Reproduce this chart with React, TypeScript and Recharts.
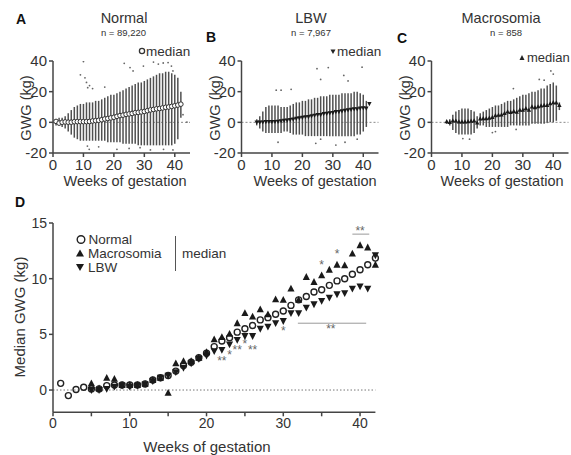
import React from 'react';
import { ComposedChart, Scatter, XAxis, YAxis, ReferenceLine, ErrorBar } from 'recharts';

const FONT = '"Liberation Sans", Arial, Helvetica, sans-serif';

// ---------- data ----------
const weeksAll = [1, 2, 3, 4, 5, 6, 7, 8, 9, 10, 11, 12, 13, 14, 15, 16, 17, 18, 19, 20, 21, 22, 23, 24, 25, 26, 27, 28, 29, 30, 31, 32, 33, 34, 35, 36, 37, 38, 39, 40, 41, 42];
const weeksLate = [5, 6, 7, 8, 9, 10, 11, 12, 13, 14, 15, 16, 17, 18, 19, 20, 21, 22, 23, 24, 25, 26, 27, 28, 29, 30, 31, 32, 33, 34, 35, 36, 37, 38, 39, 40, 41, 42];

const normalMedian = [0.6, -0.5, 0.05, 0.25, 0.1, 0.1, 0.4, 0.45, 0.45, 0.45, 0.45, 0.55, 0.9, 1.1, 1.3, 1.7, 2.2, 2.5, 2.9, 3.3, 3.9, 4.4, 4.7, 5.2, 5.5, 5.8, 6.3, 6.5, 6.8, 7.1, 7.6, 8.1, 8.4, 8.8, 9.0, 9.4, 9.8, 10.0, 10.4, 10.8, 11.25, 11.85];
const macroMedian = [0.6, 0.15, 1.1, 1.0, 0.45, 0.45, 0.45, 0.55, 0.9, 1.1, -0.25, 2.4, 2.6, 2.6, 2.9, 3.4, 4.55, 4.75, 5.05, 6.0, 6.9, 6.6, 7.25, 6.8, 8.15, 8.1, 9.1, 8.1, 10.15, 9.7, 10.3, 10.8, 11.25, 11.2, 12.25, 13.0, 12.8, 11.25];
const lbwMedian = [0.0, 0.0, 0.1, 0.3, 0.4, 0.3, 0.4, 0.5, 0.8, 1.1, 1.3, 1.6, 2.0, 2.4, 2.8, 3.1, 3.5, 3.6, 4.1, 4.5, 4.85, 4.85, 5.5, 5.7, 6.0, 6.2, 6.9, 6.9, 7.4, 7.7, 8.0, 8.3, 8.6, 8.7, 9.1, 9.3, 9.1, 12.1];

// per-week spread of individual GWG values (dense band)
const normalLow = [-2, -2, -3, -4, -6, -8, -10, -11, -12, -12, -12, -12, -12, -12, -12, -12, -12, -13, -13, -13, -13, -13, -14, -14, -14, -14, -14, -15, -15, -15, -15, -15, -15, -15, -15, -15, -15, -15, -15, -14, -11, 3];
const normalHigh = [2, 3, 3, 4, 6, 8, 10, 11, 12, 12, 13, 13, 13, 14, 14, 15, 16, 17, 18, 18, 19, 20, 21, 22, 23, 24, 25, 26, 26, 27, 28, 29, 30, 31, 32, 32, 33, 33, 32, 31, 29, 20];
const lbwLow = [-2, -4, -6, -7, -7, -7, -7, -7, -7, -6, -6, -7, -8, -8, -8, -8, -9, -9, -9, -9, -9, -9, -9, -9, -9, -9, -9, -9, -9, -9, -9, -9, -9, -8, -8, -6, -3, 12];
const lbwHigh = [2, 4, 7, 10, 11, 11, 11, 11, 10, 10, 10, 11, 12, 13, 13, 14, 14, 15, 15, 16, 16, 17, 17, 17, 18, 18, 18, 18, 19, 19, 19, 19, 20, 20, 19, 18, 14, 12];
const macroLow = [-1, -2, -5, -7, -8, -8, -8, -8, -8, -7, -4, -2, -2, -3, -3, -3, -3, -3, -3, -3, -3, -2, -2, -2, -2, -2, -2, -2, -1, -1, -1, -1, -1, 0, 0, 0, 1, 8];
const macroHigh = [1, 2, 5, 7, 8, 9, 9, 9, 8, 7, 4, 6, 7, 8, 9, 10, 11, 11, 12, 13, 14, 14, 15, 16, 17, 18, 18, 19, 20, 20, 21, 22, 22, 24, 25, 26, 24, 13];

// sparse outlying individual values
const normalOutWeek = [10, 9, 10.5, 11.4, 11, 12, 13, 17, 23.4, 25.3, 26.3, 29.7, 33, 34.6, 36.2, 37.8, 38.9, 39.4, 11.3, 11.9, 15, 21, 25, 28.6, 32, 36.3, 39.4, 42.7, 44];
const normalOutValue = [39.6, 31, 29, 22.6, 26, 24, 22, 23, 38.5, 35.7, 33.5, 36.7, 39.3, 38, 38.7, 39, 36.7, 33.5, -15.5, -17.6, -16, -17.6, -17, -16.5, -18, -17.6, -18, 5, 0.2];
const lbwOutWeek = [24.8, 28.5, 39.6, 26, 33.6, 35, 11.4, 13, 16.3, 24.4, 26, 31, 34, 38, 12];
const lbwOutValue = [35, 35.7, 36, 28, 30.6, 27, 21, 21, 21.5, -13.7, -11, -14.8, -13, -11, -13];
const macroOutWeek = [39.2, 40, 26.9, 35.4, 37, 10.3, 12.5, 20, 21, 27.8, 38];
const macroOutValue = [33.5, 31.5, 22, 28, 27.5, -10.6, -11, -6.7, -6, -4.6, 0];

// significance marks in panel D
const sigWeek = [22, 23, 24, 25, 26, 30, 35, 37, 40, 36.2];
const sigValue = [2.7, 3.2, 3.7, 4.2, 3.7, 5.4, 11.3, 12.3, 14.4, 5.6];
const sigLabel = ['**', '*', '**', '*', '**', '*', '*', '*', '**', '**'];
const sigBarFrom = [31.9, 39.0];
const sigBarTo = [40.8, 41.2];
const sigBarLevel = [6.0, 14.0];

const topXTicks = [0, 10, 20, 30, 40];
const topYTicks = [-20, 0, 20, 40];
const dXTicks = [0, 5, 10, 15, 20, 25, 30, 35, 40];
const dYTicks = [0, 5, 10, 15];

// ---------- builders ----------
const build = (w: number[], m: number[]) => w.map((x, i) => ({ x, y: m[i] }));
const buildRange = (w: number[], lo: number[], hi: number[]) =>
  w.map((x, i) => ({ x, y: lo[i], err: [0, hi[i] - lo[i]] }));

const normalD = build(weeksAll, normalMedian);
const macroD = build(weeksLate, macroMedian);
const lbwD = build(weeksLate, lbwMedian);
const sigD = sigWeek.map((x, i) => ({ x, y: sigValue[i], label: sigLabel[i] }));

// ---------- shapes ----------
const Nothing = () => <g />;
const OpenCircle = (r: number, sw: number) => (p: any) =>
  <circle cx={p.cx} cy={p.cy} r={r} fill="none" stroke="#222" strokeWidth={sw} />;
const OpenCircleWhite = (r: number, sw: number) => (p: any) =>
  <circle cx={p.cx} cy={p.cy} r={r} fill="#fff" stroke="#333" strokeWidth={sw} />;
const TriUp = (s: number) => (p: any) =>
  <path d={`M${p.cx},${p.cy - s * 0.6} L${p.cx + s * 0.55},${p.cy + s * 0.45} L${p.cx - s * 0.55},${p.cy + s * 0.45} Z`} fill="#1a1a1a" />;
const TriDown = (s: number) => (p: any) =>
  <path d={`M${p.cx},${p.cy + s * 0.6} L${p.cx + s * 0.55},${p.cy - s * 0.45} L${p.cx - s * 0.55},${p.cy - s * 0.45} Z`} fill="#1a1a1a" />;
const Dot = (p: any) => <circle cx={p.cx} cy={p.cy} r={0.9} fill="#666" />;
const Star = (p: any) => (
  <text x={p.cx} y={p.cy + 5} textAnchor="middle" fontSize={12} fill="#666" fontFamily={FONT}>
    {p.payload.label}
  </text>
);

const axisStroke = '#444';

type TopProps = {
  left: number; width: number; marginLeft: number; marginRight: number;
  lo: number[]; hi: number[]; weeks: number[]; median: { x: number; y: number }[];
  medShape: any; outW: number[]; outV: number[];
};

const TopPanel = ({ left, width, marginLeft, marginRight, lo, hi, weeks, median, medShape, outW, outV }: TopProps) => {
  const range = buildRange(weeks, lo, hi);
  const outs = build(outW, outV);
  return (
    <div style={{ position: 'absolute', left, top: 0 }}>
      <ComposedChart width={width} height={200} margin={{ top: 61, right: marginRight, bottom: 17, left: marginLeft }}>
        <XAxis type="number" dataKey="x" domain={[0, 45]} ticks={topXTicks} height={30} tickSize={4}
          stroke={axisStroke} strokeWidth={1.5} tick={{ fontSize: 15, fill: '#333', fontFamily: FONT }} allowDataOverflow />
        <YAxis type="number" dataKey="y" domain={[-20, 40]} ticks={topYTicks} width={40} tickSize={4}
          stroke={axisStroke} strokeWidth={1.5} tick={{ fontSize: 15, fill: '#333', fontFamily: FONT }} allowDataOverflow />
        <ReferenceLine y={0} stroke="#888" strokeDasharray="2 2" strokeWidth={1} />
        <Scatter data={outs} shape={Dot} isAnimationActive={false} />
        <Scatter data={range} shape={Nothing} isAnimationActive={false}>
          <ErrorBar dataKey="err" direction="y" width={0} stroke="#505050" strokeWidth={1.5} isAnimationActive={false} />
        </Scatter>
        <Scatter data={median} shape={medShape} isAnimationActive={false} />
      </ComposedChart>
    </div>
  );
};

const Overlay = () => {
  const t = { fontFamily: FONT, fill: '#333' } as const;
  return (
    <svg width={571} height={455} style={{ position: 'absolute', left: 0, top: 0, pointerEvents: 'none' }}>
      {/* Panel A */}
      <text x={16} y={24} fontSize={14} fontWeight="bold" {...t} fill="#111">A</text>
      <text x={124} y={23} fontSize={14.5} textAnchor="middle" {...t}>Normal</text>
      <text x={123.5} y={36} fontSize={9.5} textAnchor="middle" {...t}>n = 89,220</text>
      <circle cx={142} cy={51} r={2.6} fill="none" stroke="#333" strokeWidth={1.3} />
      <text x={146} y={55.5} fontSize={13.5} {...t}>median</text>
      <text x={31} y={108} fontSize={14.5} textAnchor="middle" transform="rotate(-90 31 108)" {...t}>GWG (kg)</text>
      <text x={125} y={185.5} fontSize={14.5} textAnchor="middle" {...t}>Weeks of gestation</text>

      {/* Panel B */}
      <text x={206} y={42} fontSize={14} fontWeight="bold" {...t} fill="#111">B</text>
      <text x={311} y={23} fontSize={14.5} textAnchor="middle" {...t}>LBW</text>
      <text x={311} y={36} fontSize={9.5} textAnchor="middle" {...t}>n = 7,967</text>
      <path d="M330.5,49.5 L335.5,49.5 L333,54 Z" fill="#222" />
      <text x={337} y={55.5} fontSize={13.5} {...t}>median</text>
      <text x={220} y={108} fontSize={14.5} textAnchor="middle" transform="rotate(-90 220 108)" {...t}>GWG (kg)</text>
      <text x={315} y={185.5} fontSize={14.5} textAnchor="middle" {...t}>Weeks of gestation</text>

      {/* Panel C */}
      <text x={397} y={43} fontSize={14} fontWeight="bold" {...t} fill="#111">C</text>
      <text x={501} y={23} fontSize={14.5} textAnchor="middle" {...t}>Macrosomia</text>
      <text x={506} y={36} fontSize={9.5} textAnchor="middle" {...t}>n = 858</text>
      <path d="M522,55 L524.5,60 L519.5,60 Z" fill="#222" />
      <text x={527} y={62} fontSize={13} {...t}>median</text>
      <text x={410} y={108} fontSize={14.5} textAnchor="middle" transform="rotate(-90 410 108)" {...t}>GWG (kg)</text>
      <text x={502} y={185.5} fontSize={14.5} textAnchor="middle" {...t}>Weeks of gestation</text>

      {/* Panel D */}
      <text x={15} y={207} fontSize={14} fontWeight="bold" {...t} fill="#111">D</text>
      <text x={25} y={317} fontSize={15} textAnchor="middle" transform="rotate(-90 25 317)" {...t}>Median GWG (kg)</text>
      <text x={207} y={452} fontSize={15} textAnchor="middle" {...t}>Weeks of gestation</text>
      <circle cx={81} cy={239.5} r={3.8} fill="none" stroke="#222" strokeWidth={1.4} />
      <text x={88.5} y={244} fontSize={13.5} {...t}>Normal</text>
      <path d="M80,249.5 L84,256.5 L76,256.5 Z" fill="#1a1a1a" />
      <text x={88} y={258} fontSize={13.5} {...t}>Macrosomia</text>
      <path d="M80,271 L84,264 L76,264 Z" fill="#1a1a1a" />
      <text x={88} y={272} fontSize={13.5} {...t}>LBW</text>
      <line x1={175.5} y1={236} x2={175.5} y2={271} stroke="#555" strokeWidth={1} />
      <text x={182} y={258} fontSize={13.5} {...t}>median</text>
    </svg>
  );
};

export default function App() {
  return (
    <div style={{ position: 'absolute', left: 0, top: 0, width: 571, height: 455, background: '#fff', overflow: 'hidden' }}>
      <TopPanel left={0} width={200} marginLeft={13} marginRight={10} lo={normalLow} hi={normalHigh} weeks={weeksAll}
        median={normalD} medShape={OpenCircleWhite(2.3, 1)} outW={normalOutWeek} outV={normalOutValue} />
      <TopPanel left={190} width={192} marginLeft={11.5} marginRight={3.5} lo={lbwLow} hi={lbwHigh} weeks={weeksLate}
        median={lbwD} medShape={TriDown(4)} outW={lbwOutWeek} outV={lbwOutValue} />
      <TopPanel left={370} width={201} marginLeft={21.5} marginRight={2.5} lo={macroLow} hi={macroHigh} weeks={weeksLate}
        median={macroD} medShape={TriUp(4)} outW={macroOutWeek} outV={macroOutValue} />

      <div style={{ position: 'absolute', left: 0, top: 190 }}>
        <ComposedChart width={400} height={265} margin={{ top: 33, right: 24.6, bottom: 12.7, left: 13 }}>
          <XAxis type="number" dataKey="x" domain={[0, 42]} ticks={dXTicks} height={30} tickSize={4}
            tickFormatter={(v: number) => (v % 10 === 0 ? String(v) : '')}
            stroke={axisStroke} strokeWidth={1.5} tick={{ fontSize: 14, fill: '#333', fontFamily: FONT }} />
          <YAxis type="number" dataKey="y" domain={[-2, 15]} ticks={dYTicks} width={40} tickSize={4}
            stroke={axisStroke} strokeWidth={1.5} tick={{ fontSize: 14, fill: '#333', fontFamily: FONT }} />
          <ReferenceLine y={0} stroke="#777" strokeDasharray="1.5 2" strokeWidth={1} />
          {sigBarLevel.map((lv, i) => (
            <ReferenceLine key={i} segment={[{ x: sigBarFrom[i], y: lv }, { x: sigBarTo[i], y: lv }]} stroke="#999" strokeWidth={1} />
          ))}
          <Scatter data={normalD} shape={OpenCircle(3, 1.4)} isAnimationActive={false} />
          <Scatter data={macroD} shape={TriUp(6.5)} isAnimationActive={false} />
          <Scatter data={lbwD} shape={TriDown(6.5)} isAnimationActive={false} />
          <Scatter data={sigD} shape={Star} isAnimationActive={false} />
        </ComposedChart>
      </div>
      <Overlay />
    </div>
  );
}
